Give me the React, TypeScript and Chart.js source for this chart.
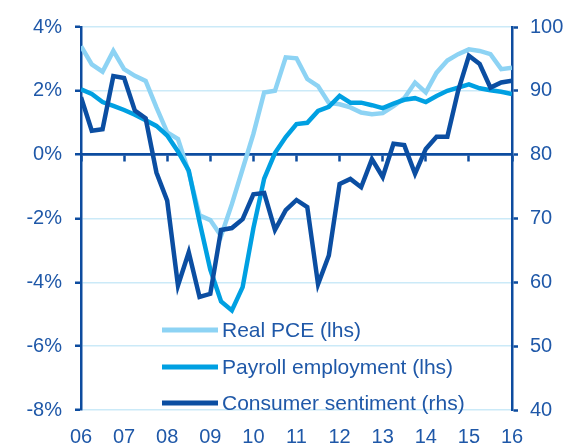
import React, { useEffect, useRef } from "react";
import { Chart, registerables } from "chart.js";

Chart.register(...registerables);

const quarters = [
  "2006Q1", "2006Q2", "2006Q3", "2006Q4",
  "2007Q1", "2007Q2", "2007Q3", "2007Q4",
  "2008Q1", "2008Q2", "2008Q3", "2008Q4",
  "2009Q1", "2009Q2", "2009Q3", "2009Q4",
  "2010Q1", "2010Q2", "2010Q3", "2010Q4",
  "2011Q1", "2011Q2", "2011Q3", "2011Q4",
  "2012Q1", "2012Q2", "2012Q3", "2012Q4",
  "2013Q1", "2013Q2", "2013Q3", "2013Q4",
  "2014Q1", "2014Q2", "2014Q3", "2014Q4",
  "2015Q1", "2015Q2", "2015Q3", "2015Q4",
  "2016Q1",
];

const realPCE = [
  3.4, 2.83, 2.6, 3.25, 2.68, 2.47, 2.31, 1.48, 0.7, 0.49, -0.55, -1.9, -2.05,
  -2.55, -1.55, -0.45, 0.65, 1.95, 2.0, 3.05, 3.02, 2.37, 2.15, 1.62, 1.58,
  1.48, 1.32, 1.27, 1.3, 1.52, 1.77, 2.26, 1.95, 2.57, 2.95, 3.15, 3.3, 3.25,
  3.15, 2.68, 2.72,
];

const payrollEmployment = [
  2.05, 1.9, 1.65, 1.53, 1.4, 1.25, 1.08, 0.9, 0.6, 0.1, -0.5, -2.1, -3.6,
  -4.6, -4.88, -4.15, -2.3, -0.75, 0.05, 0.55, 0.96, 1.0, 1.37, 1.5, 1.84,
  1.63, 1.63, 1.55, 1.46, 1.6, 1.72, 1.77, 1.65, 1.84, 2.0, 2.1, 2.2, 2.08,
  2.02, 1.97, 1.9,
];

const consumerSentiment = [
  89, 83.75, 84, 92.3, 92, 86.9, 85.7, 77.2, 72.8, 59.5, 64.7, 57.7, 58.2,
  68.2, 68.5, 69.9, 73.8, 74, 68.2, 71.3, 72.9, 71.8, 59.7, 64.2, 75.4, 76.2,
  74.9, 79.3, 76.5, 81.7, 81.5, 77, 80.9, 82.8, 82.8, 90, 95.5, 94.2, 90.5,
  91.3, 91.6,
];

const seriesLabels = [
  "Real PCE (lhs)",
  "Payroll employment (lhs)",
  "Consumer sentiment (rhs)",
];

const leftTicks = [-8, -6, -4, -2, 0, 2, 4];
const rightTicks = [40, 50, 60, 70, 80, 90, 100];
const yearTicks = [2006, 2007, 2008, 2009, 2010, 2011, 2012, 2013, 2014, 2015, 2016];

const COLORS = ["#8DD3F4", "#00A0E2", "#0B4EA2"];
const DARK = "#0D4C9F";
const GRID = "#CBEAF8";
const TEXT = "#1F58A8";
const FONT = "'Liberation Sans', Arial, sans-serif";

const xOf = (q: string) => parseInt(q.slice(0, 4), 10) + (parseInt(q.slice(5), 10) - 1) / 4;

const legendPlugin = {
  id: "insideLegend",
  afterDatasetsDraw(chart: any) {
    const { ctx, chartArea } = chart;
    const x0 = chartArea.left + 81;
    const x1 = x0 + 56;
    const rows = [chartArea.bottom - 80, chartArea.bottom - 43, chartArea.bottom - 7];
    ctx.save();
    seriesLabels.forEach((label, i) => {
      ctx.beginPath();
      ctx.strokeStyle = COLORS[i];
      ctx.lineWidth = 5;
      ctx.lineCap = "butt";
      ctx.moveTo(x0, rows[i]);
      ctx.lineTo(x1, rows[i]);
      ctx.stroke();
      ctx.fillStyle = TEXT;
      ctx.font = `21px ${FONT}`;
      ctx.textAlign = "left";
      ctx.textBaseline = "middle";
      ctx.fillText(label, x1 + 4, rows[i] + 1);
    });
    ctx.restore();
  },
};

export default function App() {
  const ref = useRef<HTMLCanvasElement | null>(null);

  useEffect(() => {
    document.body.style.margin = "0";
    const xs = quarters.map(xOf);
    const mk = (vals: number[]) => vals.map((v, i) => ({ x: xs[i], y: v }));
    const chart = new Chart(ref.current as HTMLCanvasElement, {
      type: "line",
      data: {
        datasets: [
          {
            label: seriesLabels[0],
            data: mk(realPCE),
            borderColor: COLORS[0],
            borderWidth: 4.5,
            pointRadius: 0,
            xAxisID: "x",
            yAxisID: "y",
            order: 3,
          },
          {
            label: seriesLabels[1],
            data: mk(payrollEmployment),
            borderColor: COLORS[1],
            borderWidth: 4.5,
            pointRadius: 0,
            xAxisID: "x",
            yAxisID: "y",
            order: 2,
          },
          {
            label: seriesLabels[2],
            data: mk(consumerSentiment),
            borderColor: COLORS[2],
            borderWidth: 4.5,
            pointRadius: 0,
            xAxisID: "x",
            yAxisID: "y1",
            order: 1,
          },
        ],
      },
      options: {
        animation: false,
        responsive: true,
        maintainAspectRatio: false,
        layout: { padding: { top: 27, left: 0, right: 0, bottom: 0 } },
        plugins: { legend: { display: false }, tooltip: { enabled: false } },
        scales: {
          x: {
            type: "linear",
            position: "bottom",
            min: yearTicks[0],
            max: yearTicks[yearTicks.length - 1],
            afterBuildTicks: (s: any) => {
              s.ticks = yearTicks.map((v) => ({ value: v }));
            },
            afterFit: (s: any) => {
              s.height = 37;
            },
            grid: { display: false },
            border: { display: false },
            ticks: {
              color: TEXT,
              font: { family: FONT, size: 20 },
              padding: 7,
              maxRotation: 0,
              autoSkip: false,
              callback: (v: any) => String(v).slice(2),
            },
          },
          x2: {
            type: "linear",
            position: { y: 0 },
            min: yearTicks[0],
            max: yearTicks[yearTicks.length - 1],
            afterBuildTicks: (s: any) => {
              s.ticks = yearTicks.map((v) => ({ value: v }));
            },
            grid: {
              drawOnChartArea: false,
              drawTicks: true,
              tickLength: 6,
              tickColor: DARK,
              tickWidth: 2.5,
            },
            border: { display: true, color: DARK, width: 2.5 },
            ticks: { display: false },
          },
          y: {
            type: "linear",
            position: "left",
            min: leftTicks[0],
            max: leftTicks[leftTicks.length - 1],
            afterBuildTicks: (s: any) => {
              s.ticks = leftTicks.map((v) => ({ value: v }));
            },
            afterFit: (s: any) => {
              s.width = 81;
            },
            grid: {
              color: (c: any) => (c.tick && c.tick.value === 0 ? DARK : GRID),
              lineWidth: (c: any) => (c.tick && c.tick.value === 0 ? 2.5 : 1.5),
              tickColor: DARK,
              tickLength: 6,
              tickWidth: 2.5,
            },
            border: { color: DARK, width: 2.5 },
            ticks: {
              color: TEXT,
              font: { family: FONT, size: 20 },
              padding: 13,
              callback: (v: any) => `${v}%`,
            },
          },
          y1: {
            type: "linear",
            position: "right",
            min: rightTicks[0],
            max: rightTicks[rightTicks.length - 1],
            afterBuildTicks: (s: any) => {
              s.ticks = rightTicks.map((v) => ({ value: v }));
            },
            afterFit: (s: any) => {
              s.width = 63;
            },
            grid: {
              drawOnChartArea: false,
              tickColor: DARK,
              tickLength: 6,
              tickWidth: 2.5,
            },
            border: { color: DARK, width: 2.5 },
            ticks: {
              color: TEXT,
              font: { family: FONT, size: 20 },
              padding: 12,
            },
          },
        },
      } as any,
      plugins: [legendPlugin],
    });
    return () => chart.destroy();
  }, []);

  return (
    <div style={{ position: "absolute", left: 0, top: 0, width: 575, height: 447 }}>
      <canvas ref={ref} />
    </div>
  );
}
